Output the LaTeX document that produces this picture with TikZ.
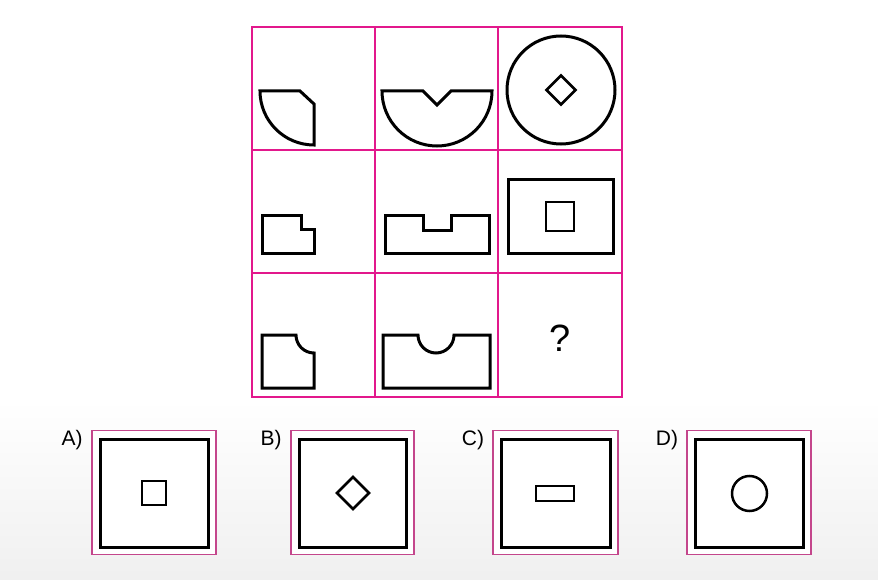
\documentclass[tikz,border=0pt]{standalone}
\usepackage{fontspec}
\setmainfont{Liberation Sans}
\usetikzlibrary{positioning}
\definecolor{gridpink}{RGB}{226,24,140}
\definecolor{framepink}{RGB}{196,70,140}
\tikzset{
  gridline/.style={color=gridpink,line width=1.5pt},
  figline/.style={color=black,line width=3pt},
  smallline/.style={color=black,line width=2.5pt},
  optframe/.style={color=framepink,line width=1.2pt,fill=white},
  optlabel/.style={font=\fontsize{21}{24}\selectfont,inner sep=0pt}
}
\begin{document}
\begin{tikzpicture}[x=1pt,y=-1pt]
\useasboundingbox (0,0) rectangle (878,580);
\fill[white] (0,0) rectangle (878,580);
\shade[top color=white,bottom color=black!6] (0,400) rectangle (878,580);
% Drawing grid
\draw[gridline] (252,27) rectangle (622,397);
\foreach \gx in {375,498}
  \draw[gridline] (\gx,27) -- (\gx,397);
\foreach \gy in {150,273}
  \draw[gridline] (252,\gy) -- (622,\gy);
% Row 1: cut quarter, notched half, disc
\draw[figline] (260,91) -- (300,91) -- (314,104) -- (314,145) arc[start angle=90,end angle=180,radius=54] -- cycle;
\draw[figline] (382,91) -- (423,91) -- (437,105) -- (451,91) -- (492,91) arc[start angle=0,end angle=180,radius=55] -- cycle;
\draw[figline] (561,90) circle[radius=54];
\draw[smallline] (561,75.5) -- (575.5,90) -- (561,104.5) -- (546.5,90) -- cycle;
% Row 2: stepped block, notched bar, frame
\draw[figline] (262,216) -- (301,216) -- (301,230) -- (314,230) -- (314,253) -- (262,253) -- cycle;
\draw[figline] (385,216) -- (423,216) -- (423,231) -- (451,231) -- (451,216) -- (489,216) -- (489,253) -- (385,253) -- cycle;
\draw[figline] (508,180) rectangle (613,253);
\draw[smallline] (546,202) rectangle (574,231);
% Row 3: bitten block, scooped bar, unknown
\draw[figline] (262,335) -- (296,335) arc[start angle=180,end angle=90,radius=18] -- (314,388) -- (262,388) -- cycle;
\draw[figline] (383,335) -- (418,335) arc[start angle=180,end angle=0,radius=18] -- (490,335) -- (490,388) -- (383,388) -- cycle;
\node (ask) at (560,338) {\fontsize{38}{40}\selectfont ?};
% Drawing answer frames
\foreach \lbl/\fx/\fw in {A/92/124,B/291/123,C/493/125,D/687/124}{
  \draw[optframe] (\fx,430.5) rectangle (\fx+\fw,554.5);
  \draw[figline] (\fx+8.5,439) rectangle (\fx+\fw-8,547);
  \node[optlabel] (lab\lbl) at (\fx-20,440) {\lbl)};
}
% Answer contents
\draw[smallline] (142,481) rectangle (166,505);
\draw[smallline] (353,477) -- (369,493) -- (353,509) -- (337,493) -- cycle;
\draw[smallline] (536,486) rectangle (574,501);
\draw[smallline] (749.5,493.5) circle[radius=17.5];
\end{tikzpicture}
\end{document}
